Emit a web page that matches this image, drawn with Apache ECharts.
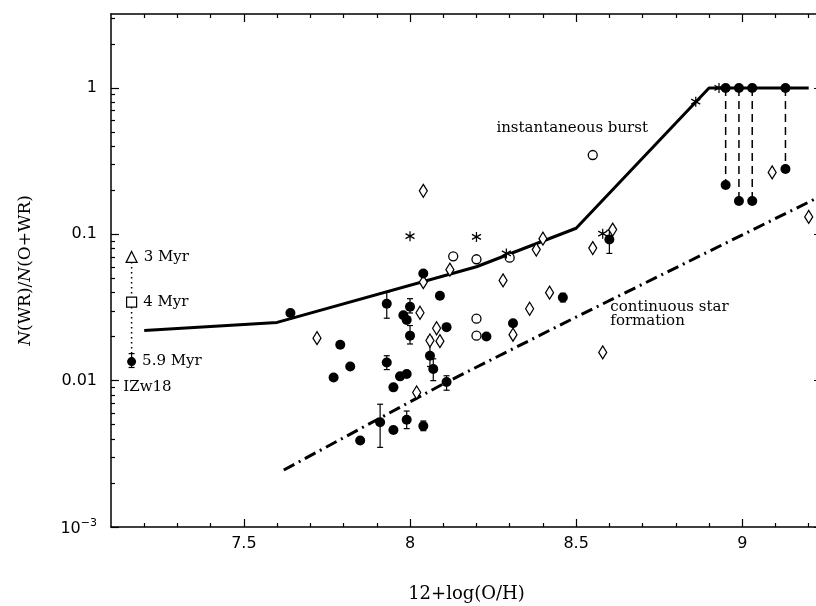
<!DOCTYPE html>
<html>
<head>
<meta charset="utf-8">
<script src="https://cdn.jsdelivr.net/npm/echarts@6/dist/echarts.min.js"></script>
<style>
  html, body { margin: 0; padding: 0; background: #fff; }
  #chart { width: 816px; height: 606px; }
</style>
</head>
<body>
<div id="chart"></div>
<script>
// axis ranges and tick positions
const xRange = [7.1, 9.24];
const yRange = [0.001, 3.2];
const xMajorTicks = [7.5, 8, 8.5, 9];
const xMinorTicks = [7.2, 7.3, 7.4, 7.6, 7.7, 7.8, 7.9, 8.1, 8.2, 8.3, 8.4, 8.6, 8.7, 8.8, 8.9, 9.1, 9.2];
const yMajorTicks = [0.001, 0.01, 0.1, 1];
const yMinorTicks = [
  0.002, 0.003, 0.004, 0.005, 0.006, 0.007, 0.008, 0.009,
  0.02, 0.03, 0.04, 0.05, 0.06, 0.07, 0.08, 0.09,
  0.2, 0.3, 0.4, 0.5, 0.6, 0.7, 0.8, 0.9, 2, 3
];

// model curves
const burstX = [7.2, 7.6, 8.2, 8.5, 8.9, 9.2];
const burstY = [0.022, 0.025, 0.06, 0.11, 1, 1];
const contX = [7.62, 8.1, 8.49, 9.24];
const contY = [0.00245, 0.0095, 0.0265, 0.184];

// filled circles
const dotX = [7.64, 7.93, 8.0, 7.98, 7.99, 8.0, 7.79, 7.82, 7.77, 7.93, 7.97, 7.99, 7.95, 8.06, 8.07,
  7.91, 7.95, 7.99, 8.04, 7.85, 8.09, 8.04, 8.11, 8.23, 8.31, 8.46, 8.6, 8.11,
  8.95, 8.99, 9.03, 9.13, 8.95, 8.99, 9.03, 9.13];
const dotY = [0.029, 0.0335, 0.032, 0.028, 0.026, 0.0203, 0.0176, 0.0125, 0.0105, 0.0133, 0.0107, 0.0111, 0.009, 0.0148, 0.012,
  0.0052, 0.0046, 0.0054, 0.0049, 0.0039, 0.038, 0.054, 0.0232, 0.02, 0.0247, 0.037, 0.092, 0.0098,
  1, 1, 1, 1, 0.217, 0.169, 0.169, 0.279];

// error bars on some filled circles
const errX = [7.93, 8.0, 8.0, 7.93, 8.06, 8.07, 7.91, 7.99, 8.04, 8.46, 8.6, 8.11];
const errLo = [0.0267, 0.029, 0.0178, 0.0119, 0.0125, 0.01, 0.0035, 0.0047, 0.00455, 0.0345, 0.074, 0.0086];
const errHi = [0.0402, 0.0363, 0.0238, 0.0148, 0.0198, 0.0141, 0.0069, 0.0062, 0.0053, 0.0395, 0.1065, 0.0108];

// open circles
const ringX = [8.55, 8.13, 8.2, 8.3, 8.2, 8.2];
const ringY = [0.348, 0.0707, 0.0675, 0.0692, 0.0265, 0.0203];

// asterisks
const starX = [8.0, 8.2, 8.29, 8.58, 8.86, 8.93];
const starY = [0.097, 0.096, 0.074, 0.101, 0.806, 1.0];

// open diamonds
const diaX = [8.04, 8.04, 7.72, 8.03, 8.02, 8.08, 8.06, 8.09, 8.12, 8.28, 8.31, 8.36, 8.38, 8.4, 8.42, 8.55, 8.61, 8.58, 9.2, 9.09];
const diaY = [0.198, 0.0471, 0.0195, 0.0291, 0.0083, 0.0228, 0.0188, 0.0186, 0.0573, 0.0484, 0.0206, 0.031, 0.0786, 0.0934, 0.0399, 0.0805, 0.1077, 0.0156, 0.1314, 0.2646];

// dashed drops from the burst line
const dropX = [8.95, 8.99, 9.03, 9.13];
const dropTop = [1, 1, 1, 1];
const dropLow = [0.217, 0.169, 0.169, 0.279];

// IZw18 ages
const izwX = 7.162;
const izwAges = ['3 Myr', '4 Myr', '5.9 Myr'];
const izwY = [0.07, 0.0344, 0.0135];
const izwErr = [0.0123, 0.0153];
const izwName = 'IZw18';
const izwNameAt = [7.137, 0.0091];

// text notes
const noteText = ['instantaneous burst', 'continuous star\nformation'];
const noteX = [8.26, 8.603];
const noteY = [0.53, 0.0284];

const zip = (xs, ys) => xs.map((x, i) => [x, ys[i]]);
const serif = 'DejaVu Serif';
const sans = 'DejaVu Sans';
const black = '#000';

const frameLine = { show: true, onZero: false, lineStyle: { color: black, width: 1.5 } };
const noLine = { show: false, onZero: false };

function xAxisOf(gridIndex, position, ticks, len, extra) {
  return Object.assign({
    type: 'value', gridIndex, position, min: xRange[0], max: xRange[1],
    axisLine: gridIndex === 0 ? frameLine : noLine,
    axisTick: { show: true, inside: true, length: len, customValues: ticks, lineStyle: { color: black, width: 1.2 } },
    axisLabel: { show: false },
    splitLine: { show: false }
  }, extra || {});
}

function yAxisOf(gridIndex, position, ticks, len, extra) {
  return Object.assign({
    type: 'log', logBase: 10, gridIndex, position, min: yRange[0], max: yRange[1],
    axisLine: gridIndex === 0 ? frameLine : noLine,
    axisTick: { show: true, inside: true, length: len, customValues: ticks, lineStyle: { color: black, width: 1.2 } },
    axisLabel: { show: false },
    splitLine: { show: false }
  }, extra || {});
}

const yTickText = { '-3': '{b|10}{s|\u22123}', '-2': '0.01', '-1': '0.1', '0': '1' };

const gridBox = { left: 111, right: -6, top: 14, bottom: 79, containLabel: false, outerBoundsMode: 'none' };

const chart = echarts.init(document.getElementById('chart'), null, { renderer: 'canvas' });

chart.setOption({
  animation: false,
  backgroundColor: '#fff',
  grid: [Object.assign({}, gridBox), Object.assign({}, gridBox)],
  xAxis: [
    xAxisOf(0, 'bottom', xMajorTicks, 8, {
      axisLabel: {
        show: true, customValues: xMajorTicks, margin: 9, color: black,
        fontFamily: sans, fontSize: 16, formatter: v => String(v)
      },
      name: '12+log(O/H)', nameLocation: 'middle', nameGap: 58,
      nameTextStyle: { color: black, fontFamily: serif, fontSize: 18 }
    }),
    xAxisOf(0, 'top', xMajorTicks, 8),
    xAxisOf(1, 'bottom', xMinorTicks, 4),
    xAxisOf(1, 'top', xMinorTicks, 4)
  ],
  yAxis: [
    yAxisOf(0, 'left', yMajorTicks, 8, {
      axisLabel: {
        show: true, customValues: yMajorTicks, margin: 14, color: black,
        fontFamily: sans, fontSize: 16,
        formatter: v => yTickText[String(Math.round(Math.log10(v)))],
        rich: {
          b: { fontFamily: sans, fontSize: 16, color: black, verticalAlign: 'bottom' },
          s: { fontFamily: sans, fontSize: 11, color: black, verticalAlign: 'bottom', padding: [0, 0, 8, 0] }
        }
      },
      name: '{i|N}(WR)/{i|N}(O+WR)', nameLocation: 'middle', nameGap: 77, nameRotate: 90,
      nameTextStyle: {
        color: black, fontFamily: serif, fontSize: 17,
        rich: { i: { fontFamily: serif, fontSize: 17, fontStyle: 'italic', color: black } }
      }
    }),
    yAxisOf(0, 'right', yMajorTicks, 8),
    yAxisOf(1, 'left', yMinorTicks, 4),
    yAxisOf(1, 'right', yMinorTicks, 4)
  ],
  series: [
    {
      name: 'instantaneous burst', type: 'line', symbol: 'none', silent: true, z: 2,
      lineStyle: { color: black, width: 3 },
      data: zip(burstX, burstY)
    },
    {
      name: 'continuous star formation', type: 'line', symbol: 'none', silent: true, z: 2,
      lineStyle: { color: black, width: 3, type: [12, 5, 2, 5] },
      data: zip(contX, contY)
    },
    {
      name: 'drops', type: 'custom', silent: true, z: 2,
      data: dropX.map((x, i) => [x, dropTop[i], dropLow[i]]),
      encode: { x: 0, y: [1, 2] },
      renderItem: (params, api) => {
        const a = api.coord([api.value(0), api.value(1)]);
        const b = api.coord([api.value(0), api.value(2)]);
        return {
          type: 'line',
          shape: { x1: a[0], y1: a[1], x2: b[0], y2: b[1] },
          style: { stroke: black, lineWidth: 1.5, lineDash: [8, 5] }
        };
      }
    },
    {
      name: 'izw line', type: 'line', symbol: 'none', silent: true, z: 2,
      lineStyle: { color: black, width: 1.5, type: [1.5, 3.5] },
      data: izwY.map(y => [izwX, y])
    },
    {
      name: 'error bars', type: 'custom', silent: true, z: 3,
      data: errX.map((x, i) => [x, errLo[i], errHi[i]]).concat([[izwX, izwErr[0], izwErr[1]]]),
      encode: { x: 0, y: [1, 2] },
      renderItem: (params, api) => {
        const lo = api.coord([api.value(0), api.value(1)]);
        const hi = api.coord([api.value(0), api.value(2)]);
        const cap = 3;
        const st = { stroke: black, lineWidth: 1.2 };
        return {
          type: 'group',
          children: [
            { type: 'line', shape: { x1: lo[0], y1: lo[1], x2: hi[0], y2: hi[1] }, style: st },
            { type: 'line', shape: { x1: lo[0] - cap, y1: lo[1], x2: lo[0] + cap, y2: lo[1] }, style: st },
            { type: 'line', shape: { x1: hi[0] - cap, y1: hi[1], x2: hi[0] + cap, y2: hi[1] }, style: st }
          ]
        };
      }
    },
    {
      name: 'diamonds', type: 'scatter', silent: true, z: 4,
      symbol: 'diamond', symbolSize: [8, 13],
      itemStyle: { color: '#fff', borderColor: black, borderWidth: 1.3, opacity: 1 },
      data: zip(diaX, diaY)
    },
    {
      name: 'open circles', type: 'scatter', silent: true, z: 4,
      symbol: 'circle', symbolSize: 9,
      itemStyle: { color: '#fff', borderColor: black, borderWidth: 1.3, opacity: 1 },
      data: zip(ringX, ringY)
    },
    {
      name: 'asterisks', type: 'scatter', silent: true, z: 4,
      symbol: 'path://M5 0L5 10M0.67 2.5L9.33 7.5M0.67 7.5L9.33 2.5', symbolSize: [9, 10],
      itemStyle: { color: 'none', borderColor: black, borderWidth: 1.3, opacity: 1 },
      data: zip(starX, starY)
    },
    {
      name: 'filled circles', type: 'scatter', silent: true, z: 5,
      symbol: 'circle', symbolSize: 10,
      itemStyle: { color: black, opacity: 1 },
      data: zip(dotX, dotY)
    },
    {
      name: 'IZw18', type: 'scatter', silent: true, z: 5,
      symbolSize: 10,
      itemStyle: { color: black, opacity: 1 },
      label: {
        show: true, position: 'right', distance: 6, formatter: p => p.name,
        color: black, fontFamily: serif, fontSize: 15
      },
      data: izwAges.map((age, i) => ({
        name: age,
        value: [izwX, izwY[i]],
        symbol: ['triangle', 'rect', 'circle'][i],
        symbolSize: [11, 10, 9][i],
        itemStyle: i < 2
          ? { color: '#fff', borderColor: black, borderWidth: 1.2, opacity: 1 }
          : { color: black, opacity: 1 }
      })).concat([{
        name: izwName, value: izwNameAt, symbolSize: 0,
        itemStyle: { color: black, opacity: 1 },
        label: { position: 'right', distance: 0 }
      }])
    },
    {
      name: 'notes', type: 'scatter', silent: true, z: 6,
      symbolSize: 0,
      itemStyle: { color: black, opacity: 1 },
      label: {
        show: true, position: 'right', distance: 0, formatter: p => p.name,
        color: black, fontFamily: serif, fontSize: 15, lineHeight: 14, align: 'left'
      },
      data: noteText.map((t, i) => ({ name: t, value: [noteX[i], noteY[i]] }))
    }
  ]
});
</script>
</body>
</html>
